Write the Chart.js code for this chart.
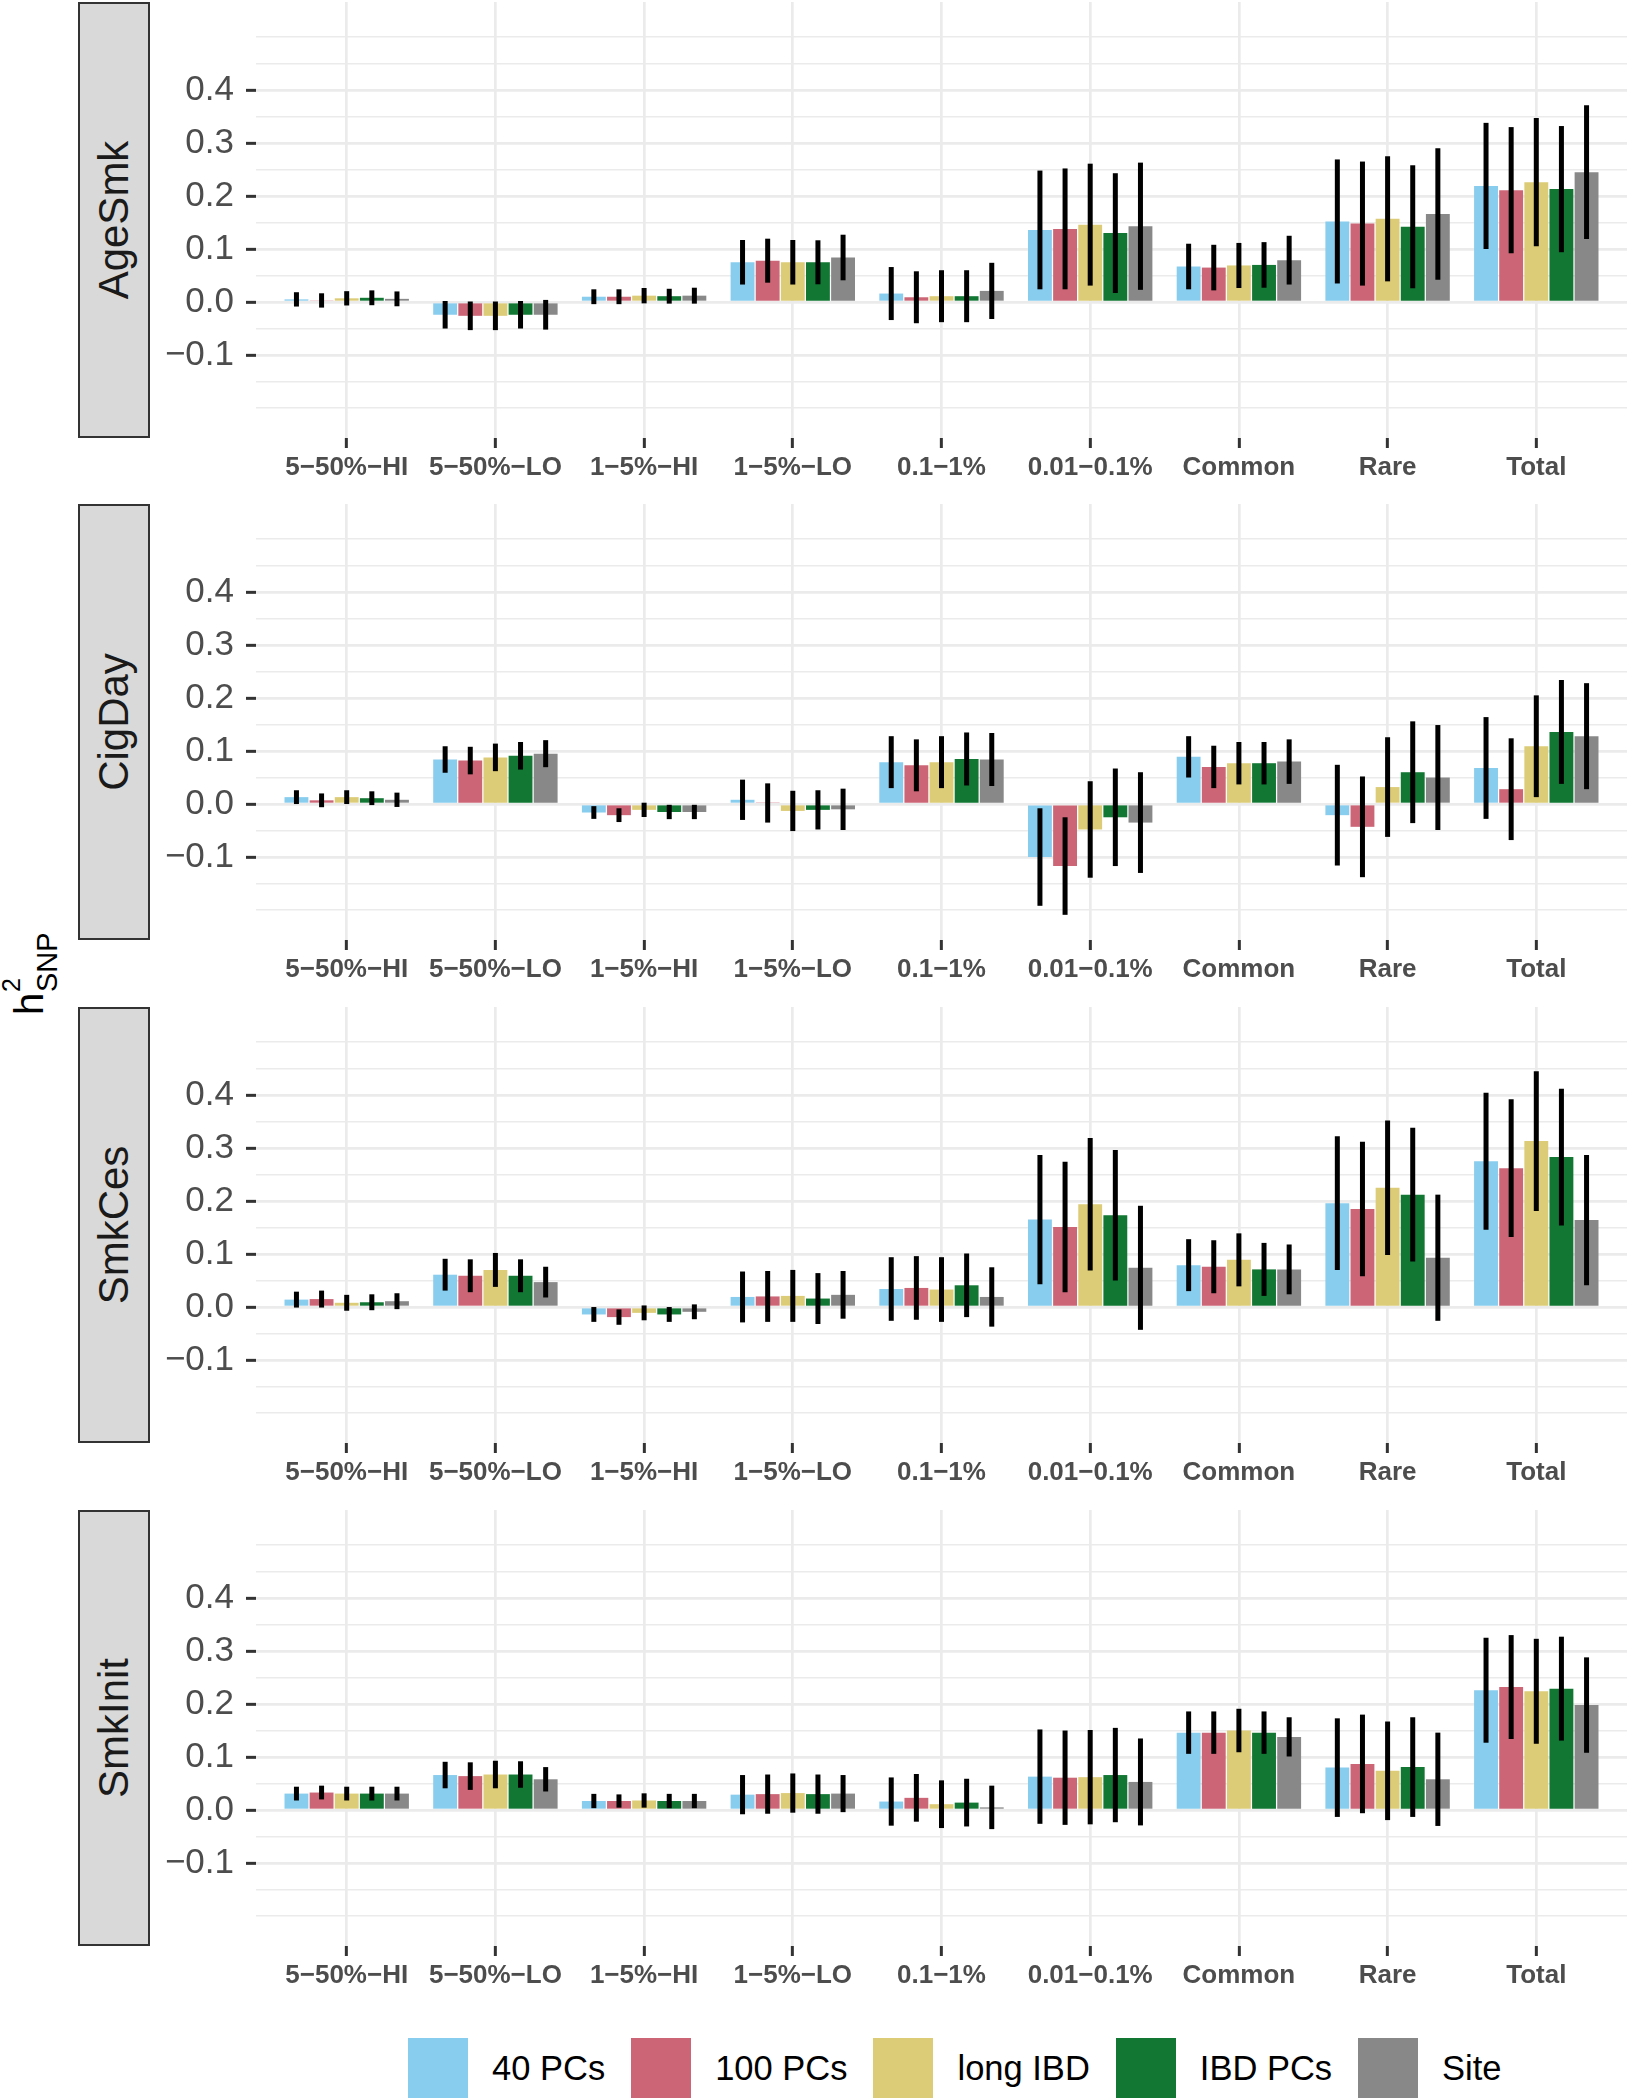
<!DOCTYPE html>
<html lang="en">
<head>
<meta charset="UTF-8">
<title>SNP heritability by variant bin</title>
<script src="https://cdn.jsdelivr.net/npm/chart.js"></script>
<style>
  body { margin: 0; background: #fff; font-family: "Liberation Sans", Arial, sans-serif; }
  #page { position: relative; width: 1627px; height: 2100px; overflow: hidden; background: #fff; }
  .panel { position: absolute; left: 150px; }
  .strip {
    position: absolute; left: 78px; width: 72px; height: 436px;
    box-sizing: border-box; background: #d9d9d9; border: 2px solid #333;
  }
  .strip span {
    position: absolute; left: 50%; top: 50%;
    transform: translate(-50%, -50%) rotate(-90deg);
    font-size: 42px; color: #1a1a1a; white-space: nowrap;
  }
  #ytitle {
    position: absolute; left: -12px; top: 944px; width: 84px; height: 60px;
    transform: rotate(-90deg); color: #000;
  }
  #ytitle span { position: absolute; line-height: 0; white-space: nowrap; }
  #legend {
    position: absolute; left: 408px; top: 2038px; height: 60px;
    display: flex; align-items: center;
  }
  .item { display: flex; align-items: center; margin-right: 26px; }
  .key { width: 60px; height: 60px; margin-right: 24px; }
  .item span { font-size: 34.5px; color: #000; }
</style>
</head>
<body>
<div id="page">
  <div id="ytitle">
    <span style="left:1px; top:29px; font-size:40px;">h</span>
    <span style="left:24px; top:11px; font-size:25px;">2</span>
    <span style="left:24px; top:47px; font-size:29px;">SNP</span>
  </div>
  <div id="legend"></div>
</div>

<script>
  // categories / series
  const categories = ['5−50%−HI', '5−50%−LO', '1−5%−HI', '1−5%−LO', '0.1−1%', '0.01−0.1%', 'Common', 'Rare', 'Total'];
  const seriesNames = ['40 PCs', '100 PCs', 'long IBD', 'IBD PCs', 'Site'];
  const seriesColors = ['#88CCEE', '#CC6677', '#DDCC77', '#117733', '#888888'];
  const traits = ['AgeSmk', 'CigDay', 'SmkCes', 'SmkInit'];

  // y axis ticks
  const yTickValues = [-0.1, 0, 0.1, 0.2, 0.3, 0.4];
  const yTickLabels = ['−0.1', '0.0', '0.1', '0.2', '0.3', '0.4'];
  const yGridValues = [-0.2, -0.15, -0.1, -0.05, 0, 0.05, 0.1, 0.15, 0.2, 0.25, 0.3, 0.35, 0.4, 0.45, 0.5];

  // estimates (rows = series, cols = categories) and error bar half-widths
  const ageSmkEst = [
    [0.005, -0.024, 0.010, 0.075, 0.016, 0.136, 0.067, 0.152, 0.219],
    [0.003, -0.026, 0.010, 0.078, 0.009, 0.138, 0.065, 0.148, 0.211],
    [0.007, -0.026, 0.012, 0.075, 0.011, 0.146, 0.069, 0.157, 0.226],
    [0.008, -0.024, 0.011, 0.075, 0.011, 0.130, 0.070, 0.142, 0.213],
    [0.006, -0.024, 0.012, 0.084, 0.021, 0.143, 0.079, 0.166, 0.245]
  ];
  const ageSmkErr = [
    [0.0135, 0.026, 0.014, 0.042, 0.050, 0.112, 0.043, 0.117, 0.119],
    [0.0135, 0.027, 0.014, 0.0415, 0.049, 0.114, 0.043, 0.117, 0.119],
    [0.0135, 0.027, 0.0145, 0.042, 0.049, 0.115, 0.0425, 0.118, 0.121],
    [0.014, 0.026, 0.014, 0.0415, 0.049, 0.113, 0.043, 0.116, 0.119],
    [0.014, 0.028, 0.015, 0.043, 0.053, 0.120, 0.046, 0.124, 0.126]
  ];

  const cigDayEst = [
    [0.013, 0.084, -0.016, 0.008, 0.079, -0.100, 0.089, -0.021, 0.068],
    [0.007, 0.082, -0.021, 0.002, 0.073, -0.117, 0.070, -0.043, 0.028],
    [0.013, 0.088, -0.011, -0.013, 0.079, -0.048, 0.077, 0.032, 0.109],
    [0.011, 0.091, -0.015, -0.011, 0.085, -0.025, 0.077, 0.060, 0.136],
    [0.008, 0.095, -0.015, -0.010, 0.084, -0.035, 0.080, 0.050, 0.128]
  ];
  const cigDayErr = [
    [0.013, 0.025, 0.012, 0.038, 0.049, 0.092, 0.039, 0.095, 0.096],
    [0.013, 0.026, 0.013, 0.037, 0.049, 0.092, 0.040, 0.095, 0.096],
    [0.013, 0.026, 0.0135, 0.038, 0.049, 0.091, 0.040, 0.094, 0.096],
    [0.013, 0.026, 0.0135, 0.037, 0.050, 0.092, 0.040, 0.096, 0.098],
    [0.0135, 0.0255, 0.0135, 0.039, 0.050, 0.095, 0.042, 0.099, 0.100]
  ];

  const smkCesEst = [
    [0.014, 0.061, -0.014, 0.019, 0.034, 0.165, 0.079, 0.196, 0.275],
    [0.015, 0.059, -0.019, 0.020, 0.036, 0.151, 0.076, 0.185, 0.262],
    [0.008, 0.070, -0.011, 0.021, 0.033, 0.194, 0.089, 0.225, 0.313],
    [0.009, 0.059, -0.014, 0.016, 0.041, 0.173, 0.071, 0.212, 0.283],
    [0.011, 0.047, -0.009, 0.023, 0.019, 0.074, 0.071, 0.093, 0.164]
  ];
  const smkCesErr = [
    [0.015, 0.030, 0.014, 0.048, 0.060, 0.122, 0.049, 0.126, 0.129],
    [0.016, 0.031, 0.0145, 0.048, 0.060, 0.123, 0.050, 0.127, 0.130],
    [0.015, 0.032, 0.014, 0.049, 0.061, 0.125, 0.050, 0.127, 0.132],
    [0.015, 0.031, 0.014, 0.048, 0.060, 0.123, 0.050, 0.126, 0.129],
    [0.015, 0.029, 0.014, 0.045, 0.056, 0.117, 0.047, 0.119, 0.123]
  ];

  const smkInitEst = [
    [0.031, 0.066, 0.017, 0.029, 0.016, 0.063, 0.146, 0.080, 0.226],
    [0.033, 0.064, 0.017, 0.030, 0.023, 0.061, 0.146, 0.087, 0.232],
    [0.031, 0.067, 0.018, 0.032, 0.011, 0.062, 0.150, 0.074, 0.224],
    [0.031, 0.067, 0.017, 0.030, 0.014, 0.066, 0.146, 0.081, 0.229],
    [0.031, 0.058, 0.017, 0.031, 0.005, 0.053, 0.138, 0.058, 0.198]
  ];
  const smkInitErr = [
    [0.013, 0.025, 0.0135, 0.037, 0.0455, 0.089, 0.040, 0.093, 0.099],
    [0.013, 0.026, 0.0125, 0.037, 0.045, 0.089, 0.040, 0.093, 0.098],
    [0.013, 0.026, 0.0135, 0.037, 0.045, 0.089, 0.041, 0.093, 0.099],
    [0.013, 0.025, 0.0135, 0.037, 0.045, 0.089, 0.040, 0.094, 0.098],
    [0.013, 0.023, 0.0135, 0.035, 0.041, 0.082, 0.037, 0.088, 0.090]
  ];

  const panelEst = [ageSmkEst, cigDayEst, smkCesEst, smkInitEst];
  const panelErr = [ageSmkErr, cigDayErr, smkCesErr, smkInitErr];

  // layout
  const panelTops = [2, 504, 1007, 1510];
  const panelH = 436;
  const FONT = '"Liberation Sans", Arial, sans-serif';

  function majorIndex(v) {
    return yTickValues.findIndex(t => Math.abs(t - v) < 1e-9);
  }

  // vertical error bars, drawn on top of the bars
  const errorBars = {
    id: 'errorBars',
    afterDatasetsDraw(chart) {
      const ctx = chart.ctx;
      const y = chart.scales.y;
      ctx.save();
      ctx.strokeStyle = '#000';
      ctx.lineWidth = 5;
      chart.data.datasets.forEach((ds, d) => {
        chart.getDatasetMeta(d).data.forEach((bar, i) => {
          const v = ds.data[i].y, e = ds.err[i];
          ctx.beginPath();
          ctx.moveTo(bar.x, y.getPixelForValue(v - e));
          ctx.lineTo(bar.x, y.getPixelForValue(v + e));
          ctx.stroke();
        });
      });
      ctx.restore();
    }
  };

  const page = document.getElementById('page');

  traits.forEach((trait, k) => {
    const strip = document.createElement('div');
    strip.className = 'strip';
    strip.style.top = panelTops[k] + 'px';
    strip.innerHTML = '<span>' + trait + '</span>';
    page.appendChild(strip);

    const canvas = document.createElement('canvas');
    canvas.className = 'panel';
    canvas.width = 1477;
    canvas.height = panelH + 60;
    canvas.style.top = panelTops[k] + 'px';
    page.appendChild(canvas);

    new Chart(canvas, {
      type: 'bar',
      data: {
        datasets: seriesNames.map((name, s) => ({
          label: name,
          data: panelEst[k][s].map((v, i) => ({ x: i, y: v })),
          err: panelErr[k][s],
          backgroundColor: seriesColors[s],
          borderWidth: 0,
          categoryPercentage: 0.845,
          barPercentage: 0.95
        }))
      },
      options: {
        responsive: false,
        animation: false,
        layout: { padding: 0 },
        plugins: { legend: { display: false }, tooltip: { enabled: false } },
        scales: {
          x: {
            type: 'linear',
            min: -0.61,
            max: 8.61,
            offset: false,
            afterBuildTicks: s => { s.ticks = categories.map((c, i) => ({ value: i })); },
            afterFit: s => { s.height = 60; s.paddingLeft = 0; s.paddingRight = 0; },
            grid: { color: '#ebebeb', lineWidth: 2.7, offset: false, tickLength: 10, tickColor: '#333', tickWidth: 3 },
            border: { display: false },
            ticks: {
              autoSkip: false, maxRotation: 0, minRotation: 0, padding: 4,
              color: '#4d4d4d', font: { family: FONT, size: 26, weight: 'bold' },
              callback: v => categories[Math.round(v)]
            }
          },
          y: {
            min: -0.2565,
            max: 0.566,
            afterBuildTicks: s => { s.ticks = yGridValues.map(v => ({ value: v })); },
            afterFit: s => { s.width = 106; s.paddingTop = 0; s.paddingBottom = 0; },
            grid: {
              color: '#ebebeb',
              lineWidth: c => (c.tick && majorIndex(c.tick.value) >= 0) ? 2.7 : 1.4,
              tickLength: 10,
              tickWidth: 3,
              tickColor: c => (c.tick && majorIndex(c.tick.value) >= 0) ? '#333' : 'rgba(0,0,0,0)'
            },
            border: { display: false },
            ticks: {
              autoSkip: false, padding: 12,
              color: '#4d4d4d', font: { family: FONT, size: 35 },
              callback: v => { const m = majorIndex(v); return m >= 0 ? yTickLabels[m] : ''; }
            }
          }
        }
      },
      plugins: [errorBars]
    });
  });

  // legend
  const legend = document.getElementById('legend');
  seriesNames.forEach((name, s) => {
    const item = document.createElement('div');
    item.className = 'item';
    item.innerHTML = '<div class="key" style="background:' + seriesColors[s] + '"></div><span>' + name + '</span>';
    legend.appendChild(item);
  });
</script>
</body>
</html>
